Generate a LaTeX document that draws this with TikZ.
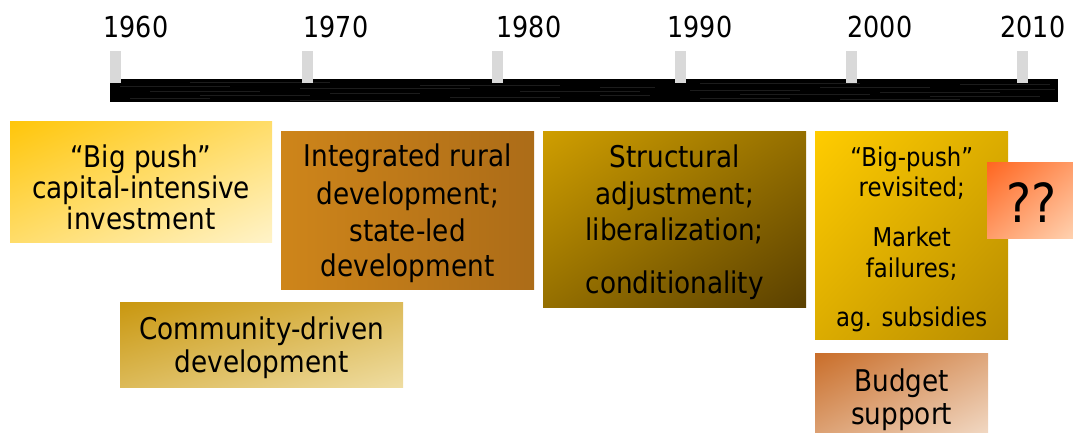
\documentclass[tikz,border=0pt]{standalone}
\usepackage{fontspec}
\setmainfont{DejaVu Sans}[FakeStretch=0.88]
\usetikzlibrary{positioning,shadings}
\definecolor{PushGold}{HTML}{FFC60A}
\definecolor{PushCream}{HTML}{FFF3C9}
\definecolor{RuralLeft}{HTML}{CE851A}
\definecolor{RuralRight}{HTML}{AC6C18}
\definecolor{CommGold}{HTML}{C9970F}
\definecolor{CommSand}{HTML}{EFDDA2}
\definecolor{AdjGold}{HTML}{CF9E00}
\definecolor{AdjBrown}{HTML}{5A4000}
\definecolor{RevGold}{HTML}{FFCC00}
\definecolor{RevDark}{HTML}{B88C00}
\definecolor{QOrange}{HTML}{FF6620}
\definecolor{QPeach}{HTML}{FFD3B2}
\definecolor{BudRust}{HTML}{C96E2A}
\definecolor{BudSkin}{HTML}{F3DDCA}
\definecolor{TickGray}{HTML}{D9D9D9}
\newcommand\erafont{\fontsize{30}{31}\selectfont}
\newcommand\yearfont{\fontsize{29}{31}\selectfont}

\tikzset{
  era/.style={rectangle, inner sep=0pt, anchor=north west, shade},
  caption/.style={inner sep=0pt, align=center, font=\erafont, text=black},
  diag/.style 2 args={upper left=#1, lower right=#2,
    upper right=#1!50!#2, lower left=#1!50!#2},
  year/.style={font=\yearfont, text=black},
  streak/.style={gray, opacity=.22, line width=.7bp},
}

\begin{document}
\begin{tikzpicture}[x=1bp,y=-1bp]
        \clip (0,0) rectangle (1073,432);
        % time axis
        \fill[black] (110,79) rectangle (1058,102);
        \foreach \sy/\sa/\sb in {82/190/330, 83/700/860, 84/960/1050, 85/420/560,
                                 86/120/230, 87/600/655, 87/820/930, 88/300/470,
                                 89/980/1055, 90/690/800, 91/150/260, 91/520/640,
                                 92/880/1000, 93/330/420, 94/740/870, 95/200/310,
                                 95/600/650, 96/930/1040, 97/450/560, 98/130/210,
                                 98/700/790, 99/840/960, 100/290/400}
          \draw[streak] (\sa,\sy) -- (\sb,\sy);
        \foreach \yr/\tx/\lx in {1960/115.5/136, 1970/307/336, 1980/497.5/529,
                                 1990/680.5/700, 2000/851.5/880, 2010/1022.5/1033} {
          \fill[TickGray] (\tx-5.5,51) rectangle (\tx+5.5,83);
          \node[year] (y\yr) at (\lx,27) {\yr};
        }
        % eras
        \node[era, diag={PushGold}{PushCream}, minimum width=262bp,
          minimum height=121bp] (bigpush) at (10,121) {};
        \node[caption, yshift=-6bp] (bigpush-t) at (bigpush.center)
          {“Big push”\\capital-intensive\\investment};
        \node[era, left color=RuralLeft, right color=RuralRight,
          minimum width=253bp, minimum height=158bp] (ruraldev) at (281,131) {};
        \node[caption, yshift=-3bp] (ruraldev-t) at (ruraldev.center)
          {Integrated rural\\[7bp]development;\\[6bp]state-led\\[4bp]development};
        \node[era, diag={CommGold}{CommSand}, minimum width=283bp,
          minimum height=85bp] (commdriven) at (120,302) {};
        \node[caption, yshift=-3bp] (commdriven-t) at (commdriven.center)
          {Community-driven\\[3bp]development};
        \node[era, diag={AdjGold}{AdjBrown}, minimum width=263bp,
          minimum height=176bp] (structadj) at (543,131) {};
        \node[caption, yshift=-3bp] (structadj-t) at (structadj.center)
          {Structural\\[6bp]adjustment;\\[6bp]liberalization;\\[22bp]conditionality};
        \node[era, diag={RevGold}{RevDark}, minimum width=193bp,
          minimum height=208bp] (bigpushrev) at (815,131) {};
        \node[caption, yshift=-4bp, font=\fontsize{26}{31}\selectfont] (bigpushrev-t)
          at (bigpushrev.center)
          {“Big-push”\\revisited;\\[19bp]Market\\failures;\\[18bp]ag. subsidies};
        \node[era, diag={BudRust}{BudSkin}, minimum width=173bp,
          minimum height=88bp] (budget) at (815,353) {};
        \node[caption, yshift=-2.5bp] (budget-t) at (budget.center)
          {Budget\\[2bp]support};
        \node[era, diag={QOrange}{QPeach}, minimum width=88bp,
          minimum height=76bp] (unknown) at (987,162) {};
        \node[caption, yshift=-2bp, font=\fontsize{54}{56}\selectfont] (unknown-t)
          at (unknown.center) {??};
      \end{tikzpicture}
\end{document}
